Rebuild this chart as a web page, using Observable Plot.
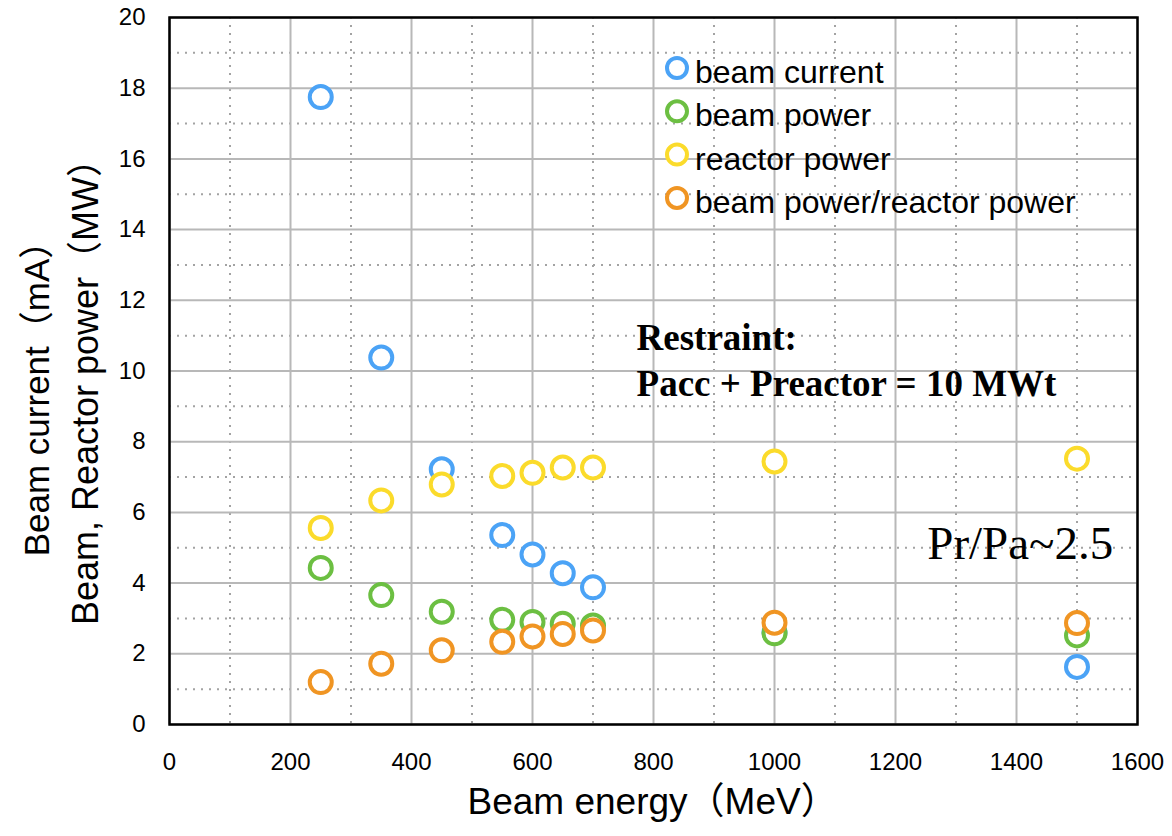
<!DOCTYPE html>
<html><head><meta charset="utf-8">
<script src="https://cdn.jsdelivr.net/npm/d3@7"></script>
<script src="https://cdn.jsdelivr.net/npm/@observablehq/plot@0.6"></script>
<style>
body{margin:0;background:#fff;}
#wrap{position:relative;width:1172px;height:836px;}
#legend{position:absolute;left:0;top:0;pointer-events:none;}
</style>
</head><body>
<div id="wrap"></div>
<script>
// ---- data ----
const energy = [250, 350, 450, 550, 600, 650, 700, 1000, 1500];
const beamCurrent = [17.75, 10.38, 7.22, 5.36, 4.81, 4.28, 3.88, 2.6, 1.63];
const beamPower = [4.43, 3.66, 3.19, 2.96, 2.9, 2.85, 2.8, 2.58, 2.52];
const reactorPower = [5.56, 6.34, 6.79, 7.03, 7.12, 7.27, 7.27, 7.44, 7.52];
const powerRatio = [1.2, 1.72, 2.1, 2.34, 2.49, 2.56, 2.66, 2.88, 2.87];
const seriesNames = ["beam current", "beam power", "reactor power", "beam power/reactor power"];
const seriesColors = ["#4ba3f6", "#6cbf42", "#fbdb2b", "#f09523"];
const xTicks = [0, 200, 400, 600, 800, 1000, 1200, 1400, 1600];
const yTicks = [0, 2, 4, 6, 8, 10, 12, 14, 16, 18, 20];
const xMinor = [100, 300, 500, 700, 900, 1100, 1300, 1500];
const yMinor = [1, 3, 5, 7, 9, 11, 13, 15, 17, 19];
const xTitle = "Beam energy（MeV）";
const yTitle1 = "Beam current（mA）";
const yTitle2 = "Beam, Reactor power（MW）";
const noteLines = ["Restraint:", "Pacc + Preactor = 10 MWt"];
const ratioNote = "Pr/Pa~2.5";

const allSeries = [beamCurrent, beamPower, reactorPower, powerRatio];
const rows = [];
allSeries.forEach((vals, i) => energy.forEach((e, j) => rows.push({series: seriesNames[i], energy: e, value: vals[j]})));

const sans = "'Liberation Sans', Arial, 'Noto Sans CJK JP', sans-serif";
const serif = "'Liberation Serif', 'Times New Roman', serif";

const chart = Plot.plot({
  width: 1172, height: 836,
  marginLeft: 169, marginRight: 35, marginTop: 17, marginBottom: 112,
  x: {domain: [0, 1600]},
  y: {domain: [0, 20]},
  color: {domain: seriesNames, range: seriesColors},
  style: {fontFamily: sans, background: "white", color: "black"},
  marks: [
    Plot.ruleX(xMinor, {stroke: "#a3a3a3", strokeWidth: 2, strokeDasharray: "2,6"}),
    Plot.ruleY(yMinor, {stroke: "#a3a3a3", strokeWidth: 2, strokeDasharray: "2,6"}),
    Plot.ruleX(xTicks, {stroke: "#b8b8b8", strokeWidth: 2}),
    Plot.ruleY(yTicks, {stroke: "#b8b8b8", strokeWidth: 2}),
    Plot.frame({stroke: "black", strokeWidth: 2.5}),
    Plot.axisX({ticks: xTicks, tickSize: 0, tickPadding: 28, fontSize: 24, label: null, tickFormat: d => String(d), fill: "black"}),
    Plot.axisY({ticks: yTicks, tickSize: 0, tickPadding: 24, fontSize: 24, label: null, tickFormat: d => String(d), fill: "black"}),
    Plot.dot(rows, {x: "energy", y: "value", stroke: "series", r: 11, strokeWidth: 4, fill: "white"}),
    Plot.text([xTitle], {text: d => d, frameAnchor: "bottom-left", textAnchor: "start", dx: 298, dy: 89, fontSize: 37, fill: "black"}),
    Plot.text([yTitle1], {text: d => d, frameAnchor: "left", textAnchor: "middle", rotate: -90, dx: -132, dy: 19, fontSize: 35, fill: "black"}),
    Plot.text([yTitle2], {text: d => d, frameAnchor: "left", textAnchor: "middle", rotate: -90, dx: -83, dy: 12, fontSize: 36, fill: "black"}),
    Plot.text([noteLines[0]], {text: d => d, x: 772, y: 10.92, textAnchor: "start", fontSize: 37, fontWeight: "bold", fontFamily: serif, fill: "black"}),
    Plot.text([noteLines[1]], {text: d => d, x: 772, y: 9.62, textAnchor: "start", fontSize: 37, fontWeight: "bold", fontFamily: serif, fill: "black"}),
    Plot.text([ratioNote], {text: d => d, x: 1560, y: 5.12, textAnchor: "end", fontSize: 47, fontFamily: serif, fill: "black"})
  ]
});
const wrap = document.getElementById("wrap");
wrap.appendChild(chart);

// legend overlay
const lg = d3.select(wrap).append("svg").attr("id", "legend").attr("width", 1172).attr("height", 836);
const items = lg.selectAll("g").data(seriesNames).join("g")
  .attr("transform", (d, i) => `translate(677,${68 + i * 43.3})`);
items.append("circle").attr("r", 10).attr("fill", "white").attr("stroke-width", 4)
  .attr("stroke", (d, i) => seriesColors[i]);
items.append("text").attr("x", 18).attr("y", 15).text(d => d)
  .attr("font-family", sans).attr("font-size", 32).attr("fill", "black");
</script>
</body></html>
